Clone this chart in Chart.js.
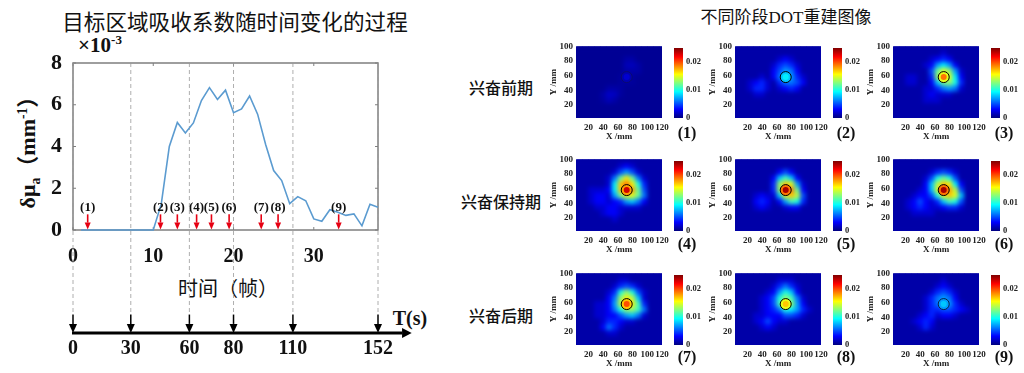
<!DOCTYPE html>
<html>
<head>
<meta charset="utf-8">
<script src="https://cdn.jsdelivr.net/npm/chart.js@4"></script>
<style>
    html, body { margin: 0; padding: 0; background: #fff; }
    #page { position: relative; width: 1024px; height: 373px; overflow: hidden; }
    canvas { position: absolute; }
    .txt { position: absolute; transform: translate(-50%, -50%); white-space: nowrap; color: #111; }
    .cjk { font-family: "Noto Sans CJK SC", sans-serif; }
    .num { font-family: "Liberation Serif", serif; font-weight: bold; }
    sub, sup { line-height: 0; font-size: 62%; }
</style>
</head>
<body>
<div id="page">
    <div class="txt cjk" style="left:235px;top:20px;font-size:21.6px">目标区域吸收系数随时间变化的过程</div>
    <div class="txt num" style="left:100px;top:45px;font-size:21px">×10<sup>-3</sup></div>
    <div class="txt num" style="left:25px;top:147px;font-size:22px;transform:translate(-50%,-50%) rotate(-90deg)">δμ<sub>a</sub><span class="cjk">（</span>mm<sup>-1</sup><span class="cjk">）</span></div>
    <div class="txt cjk" style="left:228px;top:287px;font-size:20px">时间（帧）</div>
    <div class="txt num" style="left:410px;top:318px;font-size:20px">T(s)</div>
    <div class="txt cjk" style="left:786px;top:15px;font-size:17px">不同阶段<span class="num" style="font-weight:normal">DOT</span>重建图像</div>
    <div class="txt cjk" style="left:501px;top:87px;font-size:16px;font-weight:500">兴奋前期</div>
    <div class="txt cjk" style="left:501px;top:201px;font-size:16px;font-weight:500">兴奋保持期</div>
    <div class="txt cjk" style="left:501px;top:315px;font-size:16px;font-weight:500">兴奋后期</div>
</div>
<script>
// Curve: absorption change per frame (x 10^-3 per mm)
const frames = [1, 2, 3, 4, 5, 6, 7, 8, 9, 10, 11, 12, 13, 14, 15, 16, 17, 18, 19, 20, 21, 22, 23, 24, 25, 26, 27, 28, 29, 30, 31, 32, 33, 34, 35, 36, 37, 38];
const deltaMua = [0, 0, 0, 0, 0, 0, 0, 0, 0, 0, 1.25, 4.0, 5.15, 4.65, 5.13, 6.2, 6.82, 6.25, 6.7, 5.62, 5.8, 6.42, 5.55, 4.1, 2.85, 2.37, 1.26, 1.6, 1.4, 0.53, 0.42, 0.97, 0.85, 0.7, 0.77, 0.2, 1.23, 1.09];
const frameTicks = [0, 10, 20, 30];

// Time axis under the curve
const timeLabels = ['0', '30', '60', '80', '110', '152'];
const timeFrames = [0, 7.2, 14.5, 20, 27.4, 38];

// Red arrows: which frame each reconstructed image comes from
const arrowLabels = ['(1)', '(2)', '(3)', '(4)', '(5)', '(6)', '(7)', '(8)', '(9)'];
const arrowFrames = [1.83, 10.9, 13, 15.4, 17.25, 19.45, 23.45, 25.55, 33.1];

// Heatmap cell centres in mm, rows listed top to bottom
const heatX = [8, 16, 24, 32, 40, 48, 56, 64, 72, 80, 88, 96, 104, 112, 120];
const heatY = [98, 90, 82, 74, 66, 58, 50, 42, 34, 26, 18, 10, 2];
const heatXTicks = [20, 40, 60, 80, 100, 120];
const heatYTicks = [20, 40, 60, 80, 100];
const colorbarTicks = [0, 0.01, 0.02];

// Target circle: position in mm, value of its rim area and its core per panel, units of 0.001
const targetX = [72];
const targetY = [58];
const targetRim = [1.2, 8, 15, 18, 19, 19, 17, 15, 7];
const targetCore = [2, 9, 19, 23, 24, 24, 20, 17, 8];
const targetStroke = ['#0a0a70', '#000', '#000', '#000', '#000', '#000', '#000', '#000', '#06204a'];

// Values, units of 0.001
const panel1 = [
    [.5, .5, .5, .5, .5, .5, .5, .5, .5, .5, .5, .5, .5, .5, .5],
    [.5, .5, .5, .5, .5, .5, .5, .5, .5, .5, .5, .5, .5, .5, .5],
    [.5, .5, .5, .5, .5, .5, .5, .5, 1, 1, .5, .5, .5, .5, .5],
    [.5, .5, .5, .5, .5, .5, .5, .5, 1.4, 1.5, 1, .5, .5, .5, .5],
    [.5, .5, .5, .5, .5, .5, .5, .5, 1, 1, 1, .5, .5, .5, .5],
    [.5, .5, .5, .5, .5, .5, .5, .7, 1, .7, .5, .5, .5, .5, .5],
    [.5, .5, .5, .5, .5, .5, .5, .7, .7, .7, .5, .5, .5, .5, .5],
    [.5, .5, .5, .5, .5, 1, 1, .8, .5, .5, .5, .5, .5, .5, .5],
    [.5, .5, .5, .5, 1, 1.8, 1.6, .8, .5, .5, .5, .5, .5, .5, .5],
    [.5, .5, .5, .5, .8, 1.4, 1, .5, .5, .5, .5, .5, .5, .5, .5],
    [.5, .5, .5, .5, .5, .5, .5, .5, .5, .5, .5, .5, .5, .5, .5],
    [.5, .5, .5, .5, .5, .5, .5, .5, .5, .5, .5, .5, .5, .5, .5],
    [.5, .5, .5, .5, .5, .5, .5, .5, .5, .5, .5, .5, .5, .5, .5]
];
const panel2 = [
    [1, 1, 1, 1, 1, 1, 1, 1, 1, 1, 1, 1, 1, 1, 1],
    [1, 1, 1, 1, 1, 1, 1, 1, 1, 1, 1, 1, 1, 1, 1],
    [1, 1, 1, 1, 1, 1, 1, 2, 3, 2, 1, 1, 1, 1, 1],
    [1, 1, 1, 1, 1, 1, 2, 4, 5, 4, 2, 1, 1, 1, 1],
    [1, 1, 1, 1, 1, 1, 3, 5, 7, 6, 3, 1, 1, 1, 1],
    [1, 1, 1, 1, 2, 1, 3, 6, 8, 7, 4, 2, 1, 1, 1],
    [1, 1, 2, 3, 4, 2, 1, 4, 6, 6, 5, 3, 1, 1, 1],
    [1, 1, 2, 4, 4, 2, 1, 2, 3, 4, 3, 1, 1, 1, 1],
    [1, 1, 1, 2, 2, 1, 1, 1, 1, 1, 1, 1, 1, 1, 1],
    [1, 1, 1, 1, 1, 1, 1, 1, 1, 1, 1, 1, 1, 1, 1],
    [1, 1, 1, 1, 1, 1, 1, 1, 1, 1, 1, 1, 1, 1, 1],
    [1, 1, 1, 1, 1, 1, 1, 1, 1, 1, 1, 1, 1, 1, 1],
    [1, 1, 1, 1, 1, 1, 1, 1, 1, 1, 1, 1, 1, 1, 1]
];
const panel3 = [
    [1, 1, 1, 1, 1, 1, 1, 1, 1, 1, 1, 1, 1, 1, 1],
    [1, 1, 1, 1, 1, 1, 1, 1, 2, 1, 1, 1, 1, 1, 1],
    [1, 1, 1, 1, 1, 1, 2, 3, 4, 3, 1, 1, 1, 1, 1],
    [1, 1, 1, 1, 1, 2, 3, 7, 9, 7, 3, 1, 1, 1, 1],
    [1, 1, 1, 1, 1, 1, 5, 12, 15, 13, 7, 2, 1, 1, 1],
    [1, 1, 2, 2, 1, 1, 4, 13, 17, 15, 9, 3, 1, 1, 1],
    [1, 1, 2, 2, 1, 1, 3, 8, 12, 13, 10, 4, 1, 1, 1],
    [1, 1, 1, 1, 1, 2, 2, 4, 6, 7, 6, 2, 1, 1, 1],
    [1, 1, 1, 1, 1, 2, 3, 2, 2, 2, 1, 1, 1, 1, 1],
    [1, 1, 1, 1, 1, 2, 2, 2, 1, 1, 1, 1, 1, 1, 1],
    [1, 1, 1, 1, 1, 1, 1, 1, 1, 1, 1, 1, 1, 1, 1],
    [1, 1, 1, 1, 1, 1, 1, 1, 1, 1, 1, 1, 1, 1, 1],
    [1, 1, 1, 1, 1, 1, 1, 1, 1, 1, 1, 1, 1, 1, 1]
];
const panel4 = [
    [1, 1, 1, 1, 1, 1, 1, 1, 1, 1, 1, 1, 1, 1, 1],
    [1, 1, 1, 1, 1, 1, 1, 2, 3, 2, 1, 1, 1, 1, 1],
    [1, 1, 1, 1, 1, 1, 2, 5, 7, 5, 2, 1, 1, 1, 1],
    [1, 1, 1, 1, 1, 2, 6, 12, 16, 12, 6, 2, 1, 1, 1],
    [1, 1, 1, 1, 1, 2, 9, 17, 19, 16, 10, 4, 1, 1, 1],
    [1, 1, 2, 2, 2, 3, 9, 17, 20, 18, 12, 5, 1, 1, 1],
    [1, 1, 2, 3, 3, 2, 7, 12, 15, 15, 12, 6, 1, 1, 1],
    [1, 1, 2, 3, 3, 2, 3, 4, 7, 8, 6, 3, 1, 1, 1],
    [1, 1, 1, 2, 2, 3, 3, 2, 2, 2, 2, 1, 1, 1, 1],
    [1, 1, 1, 1, 2, 3, 3, 2, 1, 1, 1, 1, 1, 1, 1],
    [1, 1, 1, 1, 1, 1, 2, 1, 1, 1, 1, 1, 1, 1, 1],
    [1, 1, 1, 1, 1, 1, 1, 1, 1, 1, 1, 1, 1, 1, 1],
    [1, 1, 1, 1, 1, 1, 1, 1, 1, 1, 1, 1, 1, 1, 1]
];
const panel5 = [
    [1, 1, 1, 1, 1, 1, 1, 1, 1, 1, 1, 1, 1, 1, 1],
    [1, 1, 1, 1, 1, 1, 1, 1, 1, 1, 1, 1, 1, 1, 1],
    [1, 1, 1, 1, 1, 1, 1, 3, 5, 3, 1, 1, 1, 1, 1],
    [1, 1, 1, 1, 1, 1, 3, 8, 11, 8, 3, 1, 1, 1, 1],
    [1, 1, 1, 1, 1, 1, 4, 13, 17, 15, 7, 2, 1, 1, 1],
    [1, 1, 1, 1, 1, 1, 4, 13, 20, 19, 12, 3, 1, 1, 1],
    [1, 1, 1, 2, 3, 2, 2, 8, 15, 17, 14, 5, 1, 1, 1],
    [1, 1, 1, 3, 4, 3, 1, 3, 7, 11, 10, 4, 1, 1, 1],
    [1, 1, 1, 2, 3, 2, 1, 1, 2, 3, 3, 1, 1, 1, 1],
    [1, 1, 1, 1, 1, 1, 1, 1, 1, 1, 1, 1, 1, 1, 1],
    [1, 1, 1, 1, 1, 1, 1, 1, 1, 1, 1, 1, 1, 1, 1],
    [1, 1, 1, 1, 1, 1, 1, 1, 1, 1, 1, 1, 1, 1, 1],
    [1, 1, 1, 1, 1, 1, 1, 1, 1, 1, 1, 1, 1, 1, 1]
];
const panel6 = [
    [1, 1, 1, 1, 1, 1, 1, 1, 1, 1, 1, 1, 1, 1, 1],
    [1, 1, 1, 1, 1, 1, 1, 1, 1, 1, 1, 1, 1, 1, 1],
    [1, 1, 1, 1, 1, 1, 2, 4, 5, 4, 2, 1, 1, 1, 1],
    [1, 1, 1, 1, 1, 2, 5, 10, 12, 10, 5, 1, 1, 1, 1],
    [1, 1, 1, 1, 1, 3, 8, 14, 17, 16, 9, 3, 1, 1, 1],
    [1, 1, 1, 1, 2, 3, 8, 15, 20, 18, 14, 5, 1, 1, 1],
    [1, 1, 1, 2, 3, 3, 5, 10, 15, 17, 15, 8, 1, 1, 1],
    [1, 1, 2, 3, 5, 3, 2, 4, 8, 11, 10, 5, 1, 1, 1],
    [1, 1, 2, 3, 4, 3, 2, 2, 3, 4, 4, 2, 1, 1, 1],
    [1, 1, 1, 2, 2, 2, 2, 1, 1, 1, 1, 1, 1, 1, 1],
    [1, 1, 1, 1, 1, 1, 1, 1, 1, 1, 1, 1, 1, 1, 1],
    [1, 1, 1, 1, 1, 1, 1, 1, 1, 1, 1, 1, 1, 1, 1],
    [1, 1, 1, 1, 1, 1, 1, 1, 1, 1, 1, 1, 1, 1, 1]
];
const panel7 = [
    [1, 1, 1, 1, 1, 1, 1, 1, 1, 1, 1, 1, 1, 1, 1],
    [1, 1, 1, 1, 1, 1, 1, 2, 2, 1, 1, 1, 1, 1, 1],
    [1, 1, 1, 1, 1, 1, 2, 4, 5, 4, 2, 1, 1, 1, 1],
    [1, 1, 1, 1, 1, 2, 4, 10, 13, 10, 5, 2, 1, 1, 1],
    [1, 1, 1, 1, 1, 3, 6, 13, 16, 14, 8, 2, 1, 1, 1],
    [1, 1, 1, 2, 2, 3, 7, 14, 17, 16, 11, 4, 1, 1, 1],
    [1, 1, 1, 2, 2, 3, 6, 10, 13, 13, 11, 6, 1, 1, 1],
    [1, 1, 1, 2, 2, 3, 3, 5, 7, 8, 6, 2, 1, 1, 1],
    [1, 1, 1, 1, 2, 4, 4, 3, 2, 2, 1, 1, 1, 1, 1],
    [1, 1, 1, 1, 3, 6, 4, 2, 1, 1, 1, 1, 1, 1, 1],
    [1, 1, 1, 1, 1, 2, 2, 1, 1, 1, 1, 1, 1, 1, 1],
    [1, 1, 1, 1, 1, 1, 1, 1, 1, 1, 1, 1, 1, 1, 1],
    [1, 1, 1, 1, 1, 1, 1, 1, 1, 1, 1, 1, 1, 1, 1]
];
const panel8 = [
    [1, 1, 1, 1, 1, 1, 1, 1, 1, 1, 1, 1, 1, 1, 1],
    [1, 1, 1, 1, 1, 1, 1, 2, 2, 2, 1, 1, 1, 1, 1],
    [1, 1, 1, 1, 1, 1, 2, 4, 6, 4, 2, 1, 1, 1, 1],
    [1, 1, 1, 1, 1, 2, 3, 7, 10, 8, 3, 1, 1, 1, 1],
    [1, 1, 1, 1, 2, 3, 5, 10, 13, 11, 6, 2, 1, 1, 1],
    [1, 1, 1, 1, 2, 3, 5, 11, 15, 13, 7, 3, 1, 1, 1],
    [1, 1, 1, 1, 2, 3, 4, 6, 10, 9, 7, 4, 2, 1, 1],
    [1, 1, 1, 2, 2, 3, 3, 3, 5, 5, 4, 2, 1, 1, 1],
    [1, 1, 1, 2, 3, 5, 3, 2, 2, 1, 1, 1, 1, 1, 1],
    [1, 1, 1, 1, 2, 3, 2, 1, 1, 1, 1, 1, 1, 1, 1],
    [1, 1, 1, 1, 1, 1, 1, 1, 1, 1, 1, 1, 1, 1, 1],
    [1, 1, 1, 1, 1, 1, 1, 1, 1, 1, 1, 1, 1, 1, 1],
    [1, 1, 1, 1, 1, 1, 1, 1, 1, 1, 1, 1, 1, 1, 1]
];
const panel9 = [
    [1, 1, 1, 1, 1, 1, 1, 1, 1, 1, 1, 1, 1, 1, 1],
    [1, 1, 1, 1, 1, 1, 1, 1, 2, 1, 1, 1, 1, 1, 1],
    [1, 1, 1, 1, 1, 1, 1, 2, 3, 2, 1, 1, 1, 1, 1],
    [1, 1, 1, 1, 1, 1, 2, 4, 5, 4, 2, 1, 1, 1, 1],
    [1, 1, 1, 1, 1, 2, 4, 6, 7, 6, 3, 1, 1, 1, 1],
    [1, 1, 1, 1, 1, 2, 4, 6, 7, 7, 4, 2, 1, 1, 1],
    [1, 1, 1, 1, 1, 2, 4, 4, 5, 5, 4, 3, 2, 1, 1],
    [1, 1, 1, 1, 2, 3, 4, 2, 3, 3, 2, 1, 1, 1, 1],
    [1, 1, 1, 2, 3, 4, 3, 1, 1, 1, 1, 1, 1, 1, 1],
    [1, 1, 1, 1, 2, 4, 2, 1, 1, 1, 1, 1, 1, 1, 1],
    [1, 1, 1, 1, 1, 1, 1, 1, 1, 1, 1, 1, 1, 1, 1],
    [1, 1, 1, 1, 1, 1, 1, 1, 1, 1, 1, 1, 1, 1, 1],
    [1, 1, 1, 1, 1, 1, 1, 1, 1, 1, 1, 1, 1, 1, 1]
];
const panels = [panel1, panel2, panel3, panel4, panel5, panel6, panel7, panel8, panel9];

const page = document.getElementById('page');
const SERIF = '"Liberation Serif", serif';

function addCanvas(left, top, width, height) {
    const canvas = document.createElement('canvas');
    canvas.width = width;
    canvas.height = height;
    canvas.style.cssText = `left:${left}px;top:${top}px;width:${width}px;height:${height}px`;
    page.appendChild(canvas);
    return canvas;
}

// Jet colormap, t in 0..1
function jet(t) {
    const part = (offset) => Math.max(0, Math.min(1, 1.5 - Math.abs(4 * t - offset)));
    return `rgb(${Math.round(255 * part(3))},${Math.round(255 * part(2))},${Math.round(255 * part(1))})`;
}

// Arrow pointing down, coordinates in pixels
function drawArrow(ctx, x, y1, y2, color, shaft, headW, headL) {
    ctx.strokeStyle = color;
    ctx.fillStyle = color;
    ctx.lineWidth = shaft;
    ctx.beginPath();
    ctx.moveTo(x, y1);
    ctx.lineTo(x, y2 - headL);
    ctx.stroke();
    ctx.beginPath();
    ctx.moveTo(x - headW / 2, y2 - headL);
    ctx.lineTo(x + headW / 2, y2 - headL);
    ctx.lineTo(x, y2);
    ctx.closePath();
    ctx.fill();
}

// Frame and inward ticks go under the curve, arrows and the time axis on top
const curveDecor = {
    id: 'curveDecor',
    beforeDatasetsDraw(chart) {
        const { ctx, chartArea: a, scales: { x, y } } = chart;
        ctx.save();
        ctx.strokeStyle = '#7f7f7f';
        ctx.lineWidth = 1.5;
        ctx.strokeRect(a.left, a.top, a.width, a.height);
        ctx.lineWidth = 1;
        ctx.beginPath();
        frameTicks.forEach(v => {
            const px = x.getPixelForValue(v);
            ctx.moveTo(px, a.bottom);
            ctx.lineTo(px, a.bottom - 3);
            ctx.moveTo(px, a.top);
            ctx.lineTo(px, a.top + 3);
        });
        y.ticks.forEach(t => {
            const py = y.getPixelForValue(t.value);
            ctx.moveTo(a.left, py);
            ctx.lineTo(a.left + 3, py);
            ctx.moveTo(a.right, py);
            ctx.lineTo(a.right - 3, py);
        });
        ctx.stroke();
        ctx.restore();
    },
    afterDatasetsDraw(chart) {
        const { ctx, scales: { x, y } } = chart;
        ctx.save();
        ctx.textAlign = 'center';
        ctx.textBaseline = 'middle';
        ctx.font = `bold 13px ${SERIF}`;
        arrowFrames.forEach((f, i) => {
            const px = x.getPixelForValue(f);
            drawArrow(ctx, px, y.getPixelForValue(0.75), y.getPixelForValue(0.02), '#e60012', 1.6, 6, 7);
            ctx.fillStyle = '#111';
            ctx.fillText(arrowLabels[i], px, y.getPixelForValue(1.05));
        });

        // time axis
        const axisY = y.getPixelForValue(-4.93);
        ctx.strokeStyle = '#000';
        ctx.lineWidth = 3;
        ctx.beginPath();
        ctx.moveTo(x.getPixelForValue(0) - 1, axisY);
        ctx.lineTo(x.getPixelForValue(41), axisY);
        ctx.stroke();
        ctx.fillStyle = '#000';
        ctx.beginPath();
        ctx.moveTo(x.getPixelForValue(41), axisY - 5);
        ctx.lineTo(x.getPixelForValue(42.2), axisY);
        ctx.lineTo(x.getPixelForValue(41), axisY + 5);
        ctx.closePath();
        ctx.fill();
        ctx.font = `bold 20px ${SERIF}`;
        timeFrames.forEach((f, i) => {
            const px = x.getPixelForValue(f);
            drawArrow(ctx, px, y.getPixelForValue(-4.05), axisY, '#000', 1.5, 8, 9);
            ctx.fillStyle = '#111';
            ctx.fillText(timeLabels[i], px, y.getPixelForValue(-5.68));
        });
        ctx.restore();
    }
};

const curveDatasets = [{
    data: frames.map((f, i) => ({ x: f, y: deltaMua[i] })),
    showLine: true,
    borderColor: '#5b9bd0',
    borderWidth: 1.6,
    pointRadius: 0,
    tension: 0,
    clip: false
}];
timeFrames.forEach(f => {
    curveDatasets.push({
        data: [{ x: f, y: 8 }, { x: f, y: -4.05 }],
        showLine: true,
        borderColor: '#999999',
        borderWidth: 0.8,
        borderDash: [4, 3],
        pointRadius: 0,
        clip: false
    });
});

new Chart(addCanvas(0, 0, 450, 373), {
    type: 'scatter',
    data: { datasets: curveDatasets },
    plugins: [curveDecor],
    options: {
        responsive: false,
        animation: false,
        devicePixelRatio: 1,
        layout: { padding: { top: 63, right: 72 } },
        plugins: { legend: { display: false }, tooltip: { enabled: false } },
        scales: {
            x: {
                type: 'linear',
                min: 0,
                max: 38,
                afterBuildTicks(scale) { scale.ticks = frameTicks.map(v => ({ value: v })); },
                afterFit(scale) { scale.height = 143; },
                grid: { display: false, drawTicks: false },
                border: { display: false },
                ticks: { color: '#111', maxRotation: 0, padding: 15, font: { family: SERIF, size: 20, weight: 'bold' } }
            },
            y: {
                min: 0,
                max: 8,
                afterFit(scale) { scale.width = 73; },
                grid: { display: false, drawTicks: false },
                border: { display: false },
                ticks: { color: '#111', stepSize: 2, padding: 11, font: { family: SERIF, size: 22, weight: 'bold' } }
            }
        }
    }
});

// Smooth the coarse cells the way the imshow in the source looks, target circle stays sharp
const heatSmooth = {
    id: 'heatSmooth',
    beforeDatasetsDraw(chart) {
        const { ctx, chartArea: a } = chart;
        ctx.save();
        ctx.fillStyle = jet(0.03);
        ctx.fillRect(a.left, a.top, a.width, a.height);
        ctx.restore();
    },
    afterDatasetDraw(chart, args) {
        if (args.index !== 2) return;
        const { ctx, chartArea: a } = chart;
        ctx.save();
        ctx.beginPath();
        ctx.rect(a.left, a.top, a.width, a.height);
        ctx.clip();
        ctx.filter = 'blur(2px)';
        ctx.drawImage(chart.canvas, a.left, a.top, a.width, a.height, a.left, a.top, a.width, a.height);
        ctx.restore();
    }
};

const tickFont = { family: SERIF, size: 9, weight: 'bold' };

function drawHeatPanel(values, index, left, top) {
    // left, top: corner of the plot area on the page
    const points = [];
    const colors = [];
    values.forEach((row, r) => row.forEach((v, c) => {
        points.push({ x: heatX[c], y: heatY[r] });
        colors.push(jet(v / 25));
    }));
    const target = targetX.map((x, i) => ({ x: x, y: targetY[i] }));
    new Chart(addCanvas(left - 28, top - 8, 28 + 86 + 12, 8 + 72 + 24), {
        type: 'scatter',
        data: {
            datasets: [
                {
                    data: target,
                    pointRadius: 3,
                    pointBorderWidth: 0,
                    pointBackgroundColor: jet(targetCore[index] / 25)
                },
                {
                    data: target,
                    pointRadius: 5.5,
                    pointBackgroundColor: jet(targetRim[index] / 25),
                    pointBorderColor: targetStroke[index],
                    pointBorderWidth: 1
                },
                {
                    data: points,
                    pointStyle: 'rect',
                    pointRadius: 4.5,
                    pointBorderWidth: 0,
                    pointBackgroundColor: colors
                }
            ]
        },
        plugins: [heatSmooth],
        options: {
            responsive: false,
            animation: false,
            devicePixelRatio: 1,
            layout: { padding: { top: 8, right: 12 } },
            plugins: { legend: { display: false }, tooltip: { enabled: false } },
            scales: {
                x: {
                    type: 'linear',
                    min: 3,
                    max: 120,
                    afterBuildTicks(scale) { scale.ticks = heatXTicks.map(v => ({ value: v })); },
                    afterFit(scale) { scale.height = 24; },
                    grid: { display: false, drawTicks: false },
                    border: { display: false },
                    title: { display: true, text: 'X /mm', color: '#222', font: tickFont, padding: { top: 0, bottom: 0 } },
                    ticks: { color: '#222', autoSkip: false, maxRotation: 0, padding: 4, font: tickFont }
                },
                y: {
                    min: 2,
                    max: 100,
                    afterBuildTicks(scale) { scale.ticks = heatYTicks.map(v => ({ value: v })); },
                    afterFit(scale) { scale.width = 28; },
                    grid: { display: false, drawTicks: false },
                    border: { display: false },
                    title: { display: true, text: 'Y /mm', color: '#222', font: tickFont, padding: { top: 0, bottom: 0 } },
                    ticks: { color: '#222', autoSkip: false, padding: 3, font: tickFont }
                }
            }
        }
    });
}

function drawColorbar(left, top) {
    new Chart(addCanvas(left, top - 6, 9 + 26, 6 + 72 + 8), {
        type: 'bar',
        data: {
            labels: [''],
            datasets: [{
                data: [[0, 0.025]],
                barPercentage: 1,
                categoryPercentage: 1,
                backgroundColor(context) {
                    const area = context.chart.chartArea;
                    if (!area) return '#00f';
                    const gradient = context.chart.ctx.createLinearGradient(0, area.bottom, 0, area.top);
                    for (let i = 0; i <= 16; i++) gradient.addColorStop(i / 16, jet(i / 16));
                    return gradient;
                }
            }]
        },
        options: {
            responsive: false,
            animation: false,
            devicePixelRatio: 1,
            layout: { padding: { top: 6, bottom: 8 } },
            plugins: { legend: { display: false }, tooltip: { enabled: false } },
            scales: {
                x: { display: false },
                y: {
                    position: 'right',
                    min: 0,
                    max: 0.025,
                    afterBuildTicks(scale) { scale.ticks = colorbarTicks.map(v => ({ value: v })); },
                    afterFit(scale) { scale.width = 26; },
                    grid: { display: false, drawTicks: false },
                    border: { display: false },
                    ticks: { color: '#222', padding: 3, font: { family: SERIF, size: 8.5, weight: 'bold' }, callback: v => String(v) }
                }
            }
        }
    });
}

// Panel layout on the page
const colLeft = [576, 735, 893];
const barLeft = [674, 833, 991];
const labelX = [687, 846, 1004];
const rowTop = [46, 159, 273];
const labelY = [133, 244, 357];

panels.forEach((values, i) => {
    const col = i % 3;
    const row = Math.floor(i / 3);
    drawHeatPanel(values, i, colLeft[col], rowTop[row]);
    drawColorbar(barLeft[col], rowTop[row]);
    const label = document.createElement('div');
    label.className = 'txt num';
    label.style.cssText = `left:${labelX[col]}px;top:${labelY[row]}px;font-size:16px`;
    label.textContent = arrowLabels[i];
    page.appendChild(label);
});
</script>
</body>
</html>
